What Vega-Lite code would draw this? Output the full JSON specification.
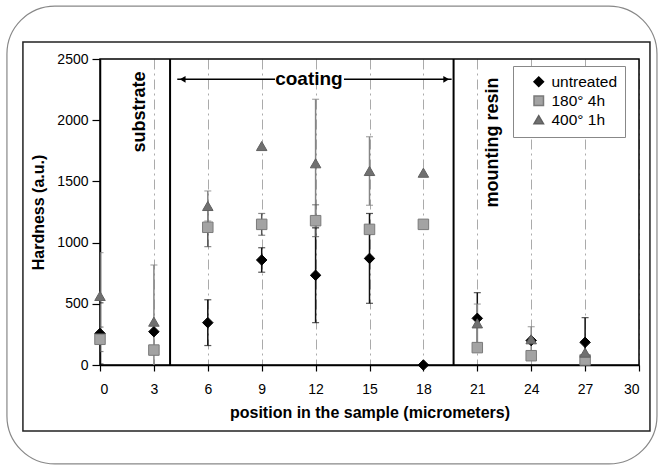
{
  "$schema": "https://vega.github.io/schema/vega-lite/v6.json",
  "width": 539,
  "height": 306,
  "autosize": {"type": "none"},
  "padding": {"left": 100, "top": 59, "right": 19, "bottom": 100},
  "background": "white",
  "config": {
    "view": {"stroke": null},
    "font": "Liberation Sans",
    "legend": {
      "orient": "none", "legendX": 413, "legendY": 7, "title": null,
      "labelFontSize": 15.5, "labelFont": "Liberation Sans", "labelColor": "#000",
      "strokeColor": "#888", "fillColor": "#fff", "padding": 8, "symbolOffset": 10,
      "rowPadding": 2, "labelOffset": 5, "symbolSize": 90
    }
  },
  "datasets": {
    "pts": [
      {"x": 0, "y": 258, "series": "untreated"},
      {"x": 3, "y": 272, "series": "untreated"},
      {"x": 6, "y": 346, "series": "untreated"},
      {"x": 9, "y": 858, "series": "untreated"},
      {"x": 12, "y": 733, "series": "untreated"},
      {"x": 15, "y": 871, "series": "untreated"},
      {"x": 18, "y": 0, "series": "untreated"},
      {"x": 21, "y": 381, "series": "untreated"},
      {"x": 24, "y": 200, "series": "untreated"},
      {"x": 27, "y": 185, "series": "untreated"},
      {"x": 0, "y": 210, "series": "180° 4h"},
      {"x": 3, "y": 122, "series": "180° 4h"},
      {"x": 6, "y": 1125, "series": "180° 4h"},
      {"x": 9, "y": 1149, "series": "180° 4h"},
      {"x": 12, "y": 1179, "series": "180° 4h"},
      {"x": 15, "y": 1108, "series": "180° 4h"},
      {"x": 18, "y": 1149, "series": "180° 4h"},
      {"x": 21, "y": 142, "series": "180° 4h"},
      {"x": 24, "y": 76, "series": "180° 4h"},
      {"x": 27, "y": 41, "series": "180° 4h"},
      {"x": 0, "y": 564, "series": "400° 1h"},
      {"x": 3, "y": 354, "series": "400° 1h"},
      {"x": 6, "y": 1299, "series": "400° 1h"},
      {"x": 9, "y": 1789, "series": "400° 1h"},
      {"x": 12, "y": 1648, "series": "400° 1h"},
      {"x": 15, "y": 1585, "series": "400° 1h"},
      {"x": 18, "y": 1571, "series": "400° 1h"},
      {"x": 21, "y": 340, "series": "400° 1h"},
      {"x": 24, "y": 210, "series": "400° 1h"},
      {"x": 27, "y": 101, "series": "400° 1h"}
    ],
    "errs": [
      {"x": 0, "lo": 8, "hi": 508, "series": "untreated"},
      {"x": 6, "lo": 159, "hi": 533, "series": "untreated"},
      {"x": 9, "lo": 758, "hi": 958, "series": "untreated"},
      {"x": 12, "lo": 346, "hi": 1120, "series": "untreated"},
      {"x": 15, "lo": 504, "hi": 1238, "series": "untreated"},
      {"x": 21, "lo": 171, "hi": 591, "series": "untreated"},
      {"x": 27, "lo": -17, "hi": 387, "series": "untreated"},
      {"x": 0, "lo": 110, "hi": 310, "series": "180° 4h"},
      {"x": 6, "lo": 967, "hi": 1283, "series": "180° 4h"},
      {"x": 9, "lo": 1060, "hi": 1238, "series": "180° 4h"},
      {"x": 12, "lo": 1049, "hi": 1309, "series": "180° 4h"},
      {"x": 0, "lo": 210, "hi": 918, "series": "400° 1h"},
      {"x": 3, "lo": -109, "hi": 817, "series": "400° 1h"},
      {"x": 6, "lo": 1176, "hi": 1422, "series": "400° 1h"},
      {"x": 12, "lo": 1125, "hi": 2171, "series": "400° 1h"},
      {"x": 15, "lo": 1305, "hi": 1865, "series": "400° 1h"},
      {"x": 21, "lo": 182, "hi": 498, "series": "400° 1h"},
      {"x": 24, "lo": 107, "hi": 313, "series": "400° 1h"}
    ],
    "dividers": [{"x": 3.9}, {"x": 19.68}],
    "arrows": [
      {"x": 4.3, "x2": 9.74, "y": 2334},
      {"x": 13.58, "x2": 19.57, "y": 2334}
    ],
    "heads": [
      {"x": 4.6, "y": 2334, "dir": "left"},
      {"x": 19.27, "y": 2334, "dir": "right"}
    ],
    "hlabels": [{"x": 11.63, "y": 2334, "label": "coating"}],
    "vlabels": [
      {"x": 2.23, "y": 2067, "label": "substrate"},
      {"x": 21.87, "y": 1817, "label": "mounting resin"}
    ]
  },
  "layer": [
    {
      "data": {"name": "pts"},
      "mark": {"type": "point", "opacity": 0},
      "encoding": {
        "x": {
          "field": "x", "type": "quantitative",
          "scale": {"domain": [0, 30], "nice": false, "zero": false},
          "axis": {
            "values": [0, 3, 6, 9, 12, 15, 18, 21, 24, 27, 30],
            "title": "position in the sample (micrometers)",
            "titleFont": "Liberation Sans", "titleFontSize": 16, "titleFontWeight": "bold", "titleColor": "#000", "titlePadding": 8,
            "labelFont": "Liberation Sans", "labelFontSize": 14, "labelColor": "#000", "labelPadding": 11,
            "tickSize": 6, "tickColor": "#000", "tickWidth": 1.2,
            "domainColor": "#000", "domainWidth": 1.5,
            "grid": true, "gridColor": "#aaaaaa", "gridDash": [10, 4, 2, 4], "gridWidth": 1
          }
        },
        "y": {
          "field": "y", "type": "quantitative",
          "scale": {"domain": [0, 2500], "nice": false},
          "axis": {
            "values": [0, 500, 1000, 1500, 2000, 2500],
            "format": "d",
            "title": "Hardness (a.u.)",
            "titleFont": "Liberation Sans", "titleFontSize": 16, "titleFontWeight": "bold", "titleColor": "#000", "titlePadding": 10,
            "labelFont": "Liberation Sans", "labelFontSize": 14, "labelColor": "#000", "labelPadding": 4,
            "tickSize": 8, "tickColor": "#000", "tickWidth": 1.2,
            "domainColor": "#000", "domainWidth": 1.5,
            "grid": false
          }
        }
      }
    },
    {
      "data": {"values": [{}]},
      "mark": {"type": "rect", "fillOpacity": 0, "stroke": "#888", "strokeWidth": 1.2, "cornerRadius": 48, "clip": false},
      "encoding": {
        "x": {"datum": -5.18, "type": "quantitative"},
        "x2": {"datum": 31.0},
        "y": {"datum": 2932, "type": "quantitative"},
        "y2": {"datum": -808}
      }
    },
    {
      "data": {"values": [{}]},
      "mark": {"type": "rect", "fillOpacity": 0, "stroke": "#222", "strokeWidth": 1.5, "clip": false},
      "encoding": {
        "x": {"datum": -4.29, "type": "quantitative"},
        "x2": {"datum": 30.61},
        "y": {"datum": 2638, "type": "quantitative"},
        "y2": {"datum": -539}
      }
    },
    {
      "data": {"values": [{}]},
      "mark": {"type": "rect", "fillOpacity": 0, "stroke": "#000", "strokeWidth": 1.5, "clip": false},
      "encoding": {
        "x": {"datum": 0, "type": "quantitative"},
        "x2": {"datum": 30},
        "y": {"datum": 0, "type": "quantitative"},
        "y2": {"datum": 2500}
      }
    },
    {
      "data": {"name": "dividers"},
      "mark": {"type": "rule", "stroke": "#000", "strokeWidth": 2},
      "encoding": {"x": {"field": "x", "type": "quantitative"}}
    },
    {
      "data": {"name": "arrows"},
      "mark": {"type": "rule", "stroke": "#000", "strokeWidth": 1.5},
      "encoding": {
        "x": {"field": "x", "type": "quantitative"},
        "x2": {"field": "x2"},
        "y": {"field": "y", "type": "quantitative"}
      }
    },
    {
      "data": {"name": "heads"},
      "transform": [{"filter": "datum.dir === 'left'"}],
      "mark": {"type": "point", "filled": true, "color": "#000", "size": 45, "opacity": 1, "shape": "triangle-left"},
      "encoding": {
        "x": {"field": "x", "type": "quantitative"},
        "y": {"field": "y", "type": "quantitative"}
      }
    },
    {
      "data": {"name": "heads"},
      "transform": [{"filter": "datum.dir === 'right'"}],
      "mark": {"type": "point", "filled": true, "color": "#000", "size": 45, "opacity": 1, "shape": "triangle-right"},
      "encoding": {
        "x": {"field": "x", "type": "quantitative"},
        "y": {"field": "y", "type": "quantitative"}
      }
    },
    {
      "data": {"name": "hlabels"},
      "mark": {"type": "text", "fontSize": 19, "fontWeight": "bold", "align": "center", "baseline": "middle", "color": "#000"},
      "encoding": {
        "x": {"field": "x", "type": "quantitative"},
        "y": {"field": "y", "type": "quantitative"},
        "text": {"field": "label"}
      }
    },
    {
      "data": {"name": "vlabels"},
      "mark": {"type": "text", "fontSize": 18, "fontWeight": "bold", "align": "center", "baseline": "middle", "angle": 270, "color": "#000"},
      "encoding": {
        "x": {"field": "x", "type": "quantitative"},
        "y": {"field": "y", "type": "quantitative"},
        "text": {"field": "label"}
      }
    },
    {
      "data": {"name": "errs"},
      "mark": {"type": "rule", "strokeWidth": 1.5, "clip": true},
      "encoding": {
        "x": {"field": "x", "type": "quantitative"},
        "y": {"field": "lo", "type": "quantitative"},
        "y2": {"field": "hi"},
        "color": {"condition": [{"test": "datum.series === 'untreated'", "value": "#111"}, {"test": "datum.series === '180° 4h'", "value": "#555"}], "value": "#858585"}
      }
    },
    {
      "data": {"name": "errs"},
      "mark": {"type": "tick", "orient": "horizontal", "size": 7, "thickness": 1.2, "clip": true},
      "encoding": {
        "x": {"field": "x", "type": "quantitative"},
        "y": {"field": "lo", "type": "quantitative"},
        "color": {"condition": [{"test": "datum.series === 'untreated'", "value": "#111"}, {"test": "datum.series === '180° 4h'", "value": "#555"}], "value": "#858585"}
      }
    },
    {
      "data": {"name": "errs"},
      "mark": {"type": "tick", "orient": "horizontal", "size": 7, "thickness": 1.2, "clip": true},
      "encoding": {
        "x": {"field": "x", "type": "quantitative"},
        "y": {"field": "hi", "type": "quantitative"},
        "color": {"condition": [{"test": "datum.series === 'untreated'", "value": "#111"}, {"test": "datum.series === '180° 4h'", "value": "#555"}], "value": "#858585"}
      }
    },
    {
      "data": {"name": "pts"},
      "mark": {"type": "point", "filled": true, "size": 110, "opacity": 1, "strokeWidth": 1},
      "encoding": {
        "x": {"field": "x", "type": "quantitative"},
        "y": {"field": "y", "type": "quantitative"},
        "shape": {"field": "series", "type": "nominal", "scale": {"domain": ["untreated", "180° 4h", "400° 1h"], "range": ["diamond", "square", "triangle-up"]}},
        "color": {"field": "series", "type": "nominal", "scale": {"domain": ["untreated", "180° 4h", "400° 1h"], "range": ["#000000", "#a3a3a3", "#707070"]}},
        "stroke": {"field": "series", "type": "nominal", "scale": {"domain": ["untreated", "180° 4h", "400° 1h"], "range": ["#000000", "#7a7a7a", "#606060"]}}
      }
    }
  ]
}
